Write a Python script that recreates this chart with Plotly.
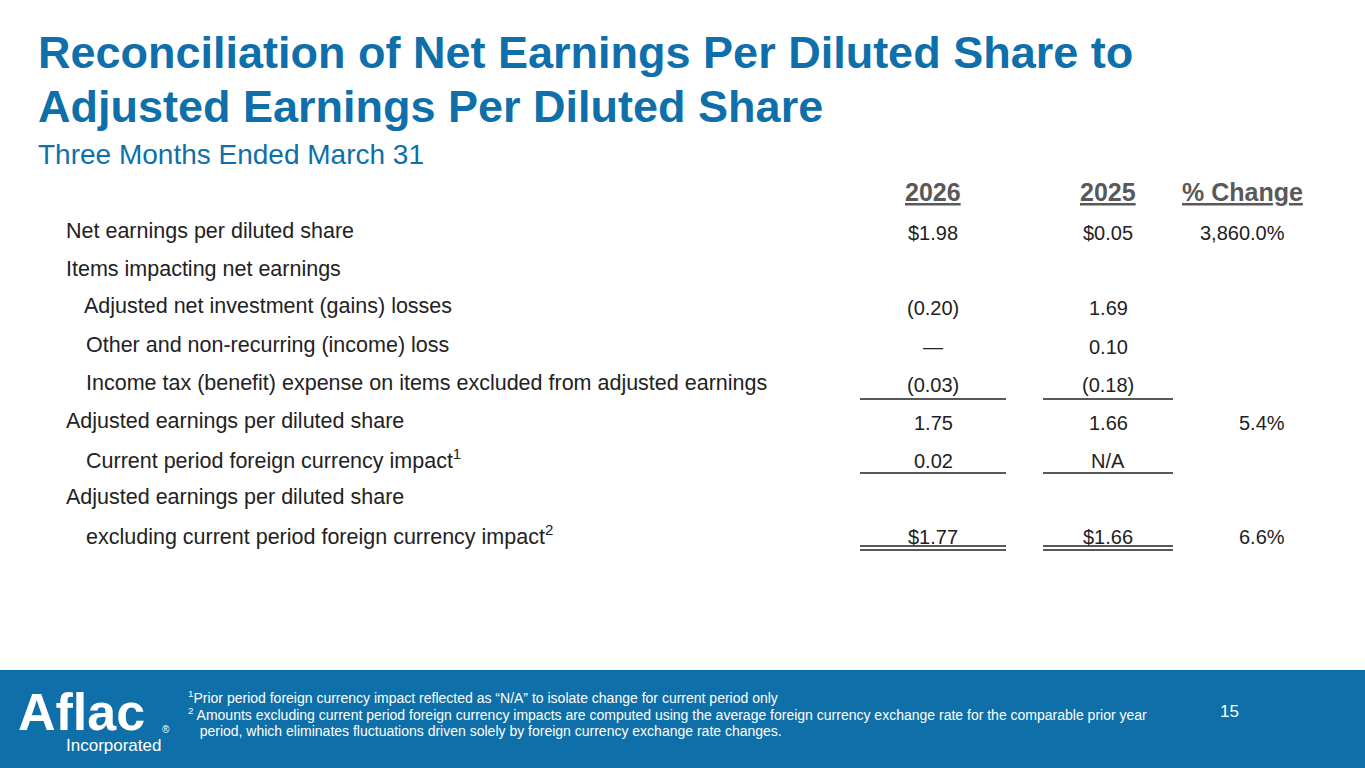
import plotly.graph_objects as go

BLUE = '#0e6faa'
FONT = 'Liberation Sans, Arial, sans-serif'

labels = ['Net earnings per diluted share',
          'Items impacting net earnings',
          'Adjusted net investment (gains) losses',
          'Other and non-recurring (income) loss',
          'Income tax (benefit) expense on items excluded from adjusted earnings',
          'Adjusted earnings per diluted share',
          'Current period foreign currency impact<sup>1</sup>',
          'Adjusted earnings per diluted share',
          'excluding current period foreign currency impact<sup>2</sup>']
indent = [0, 0, 18, 20, 20, 0, 20, 0, 20]
col_2026 = ['$1.98', '', '(0.20)', '—', '(0.03)', '1.75', '0.02', '', '$1.77']
col_2025 = ['$0.05', '', '1.69', '0.10', '(0.18)', '1.66', 'N/A', '', '$1.66']
pct_change = ['3,860.0%', '', '', '', '', '5.4%', '', '', '6.6%']
headers = ['2026', '2025', '% Change']
footnotes = ['<sup>1</sup>Prior period foreign currency impact reflected as “N/A” to isolate change for current period only',
             '<sup>2</sup> Amounts excluding current period foreign currency impacts are computed using the average foreign currency exchange rate for the comparable prior year',
             '   period, which eliminates fluctuations driven solely by foreign currency exchange rate changes.']

fig = go.Figure()
ann = []
shapes = []


def txt(x, y, s, size=19, color='#222222', anchor='left', bold=False):
    ann.append(dict(x=x, y=y, text=('<b>%s</b>' % s) if bold else s, showarrow=False,
                    xanchor=anchor, yanchor='middle',
                    font=dict(family=FONT, size=size, color=color)))


# title block
txt(36, 52, 'Reconciliation of Net Earnings Per Diluted Share to', 45, BLUE, bold=True)
txt(36, 106, 'Adjusted Earnings Per Diluted Share', 45, BLUE, bold=True)
txt(36, 154, 'Three Months Ended March 31', 28, BLUE)

# headers
for x, h, a in zip([933, 1108, 1305], headers, ['center', 'center', 'right']):
    txt(x, 192, '<u>%s</u>' % h, 25, '#595959', a, bold=True)

row_y = [231, 269, 306, 345, 383, 421, 459, 497, 535]
for i, y in enumerate(row_y):
    txt(64 + indent[i], y, labels[i], 21.5)
    txt(933, y + 2, col_2026[i], 20, anchor='center')
    txt(1108, y + 2, col_2025[i], 20, anchor='center')
    txt(1287, y + 2, pct_change[i], 20, anchor='right')

# rules under columns
for y0 in [399, 473, 546, 550]:
    for a, b in [(860, 1006), (1043, 1173)]:
        shapes.append(dict(type='line', x0=a, x1=b, y0=y0, y1=y0,
                           line=dict(color='#222222', width=1.3)))

# footer
shapes.append(dict(type='rect', x0=0, x1=1365, y0=670, y1=768, fillcolor='#0f6fa8',
                   line=dict(width=0), layer='below'))
txt(16, 712, '<b>Aflac</b>', 52, 'white')
txt(64, 745, 'Incorporated', 17, 'white')
txt(160, 729, '®', 10, 'white')
for y, f in zip([697, 714, 731], footnotes):
    txt(186, y, f, 14, 'white')
txt(1229, 711, '15', 17, 'white', 'center')

fig.update_layout(
    width=1365, height=768, autosize=False,
    margin=dict(l=0, r=0, t=0, b=0),
    plot_bgcolor='white', paper_bgcolor='white',
    xaxis=dict(range=[0, 1365], visible=False, fixedrange=True),
    yaxis=dict(range=[768, 0], visible=False, fixedrange=True),
    annotations=ann, shapes=shapes, showlegend=False,
)
fig.write_html('out.html', config={'displayModeBar': False},
               post_script="document.body.style.margin='0';document.body.style.overflow='hidden';")
